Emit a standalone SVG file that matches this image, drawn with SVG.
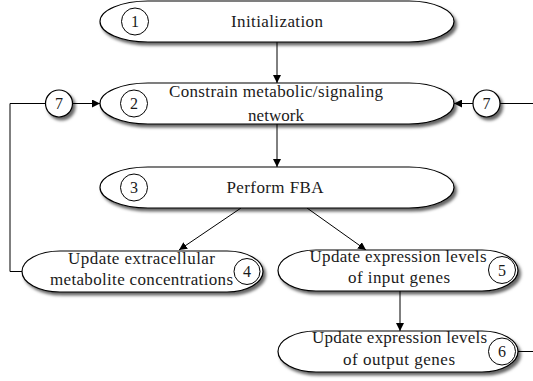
<svg xmlns="http://www.w3.org/2000/svg" width="533" height="381" viewBox="0 0 533 381" font-family="'Liberation Serif', 'Times New Roman', serif">
<defs>
<filter id="sh" x="-10%" y="-20%" width="130%" height="160%">
<feDropShadow dx="2.5" dy="3" stdDeviation="1.6" flood-color="#000" flood-opacity="0.6"/>
</filter>
<marker id="ah" viewBox="0 0 10 10" refX="10" refY="5" markerWidth="8" markerHeight="8" markerUnits="userSpaceOnUse" orient="auto">
<path d="M0,0 L10,5 L0,10 z" fill="#000"/>
</marker>
</defs>
<style>
.node{fill:#fff;stroke:#000;stroke-width:1.2;filter:url(#sh)}
.num{fill:#fff;stroke:#000;stroke-width:1}
.numsh{fill:#fff;stroke:#000;stroke-width:1.2;filter:url(#sh)}
text{font-size:17px;fill:#1a1a1a;text-anchor:middle}
.n{font-size:16px}
.c{fill:none;stroke:#000;stroke-width:1}
</style>
<g id="connectors">
<line class="c" x1="277" y1="42" x2="277" y2="83" marker-end="url(#ah)"/>
<line class="c" x1="277" y1="124" x2="277" y2="167" marker-end="url(#ah)"/>
<line class="c" x1="241" y1="208" x2="179" y2="250" marker-end="url(#ah)"/>
<line class="c" x1="307" y1="208" x2="366" y2="250" marker-end="url(#ah)"/>
<line class="c" x1="400" y1="291" x2="400" y2="331" marker-end="url(#ah)"/>
<polyline class="c" points="22,271.5 10,271.5 10,103.5 45.5,103.5"/>
<line class="c" x1="72.5" y1="103.5" x2="100" y2="103.5" marker-end="url(#ah)"/>
<line class="c" x1="518" y1="351.5" x2="533" y2="351.5"/>
<line class="c" x1="533" y1="103.5" x2="500" y2="103.5"/>
<line class="c" x1="473" y1="103.5" x2="454" y2="103.5" marker-end="url(#ah)"/>
</g>
<g id="n1">
<path class="node" d="M148,1 H409 A45,20.5 0 0 1 409,42 H148 A48,20.5 0 0 1 148,1 Z"/>
<circle class="num" cx="135" cy="21.5" r="13.5"/>
<text class="n" x="135" y="27">1</text>
<text x="277" y="27" textLength="92">Initialization</text>
</g>
<g id="n2">
<path class="node" d="M148,83 H409 A45,20.5 0 0 1 409,124 H148 A48,20.5 0 0 1 148,83 Z"/>
<circle class="num" cx="134" cy="103.5" r="13.5"/>
<text class="n" x="134" y="109">2</text>
<text x="276" y="97" textLength="214">Constrain metabolic/signaling</text>
<text x="276" y="121" textLength="56">network</text>
</g>
<g id="n3">
<path class="node" d="M148,167 H409 A45,20.5 0 0 1 409,208 H148 A48,20.5 0 0 1 148,167 Z"/>
<circle class="num" cx="134" cy="187.5" r="13.5"/>
<text class="n" x="134" y="193">3</text>
<text x="275" y="193" textLength="97">Perform FBA</text>
</g>
<g id="n4">
<path class="node" d="M60,251 H227 A36,20.5 0 0 1 227,292 H60 A38,20.5 0 0 1 60,251 Z"/>
<circle class="num" cx="247" cy="271.5" r="13"/>
<text class="n" x="247" y="277">4</text>
<text x="141.5" y="264" textLength="147">Update extracellular</text>
<text x="141.5" y="285" textLength="183">metabolite concentrations</text>
</g>
<g id="n5">
<path class="node" d="M316,250 H482 A36,20.5 0 0 1 482,291 H316 A38,20.5 0 0 1 316,250 Z"/>
<circle class="num" cx="502" cy="270" r="13.5"/>
<text class="n" x="502" y="275.5">5</text>
<text x="398" y="262" textLength="177">Update expression levels</text>
<text x="399" y="283" textLength="102">of input genes</text>
</g>
<g id="n6">
<path class="node" d="M316,331 H482 A36,20.5 0 0 1 482,372 H316 A38,20.5 0 0 1 316,331 Z"/>
<circle class="num" cx="502" cy="351.5" r="13.5"/>
<text class="n" x="502" y="357">6</text>
<text x="399.5" y="343" textLength="175">Update expression levels</text>
<text x="399" y="365" textLength="112">of output genes</text>
</g>
<g id="n7a">
<circle class="numsh" cx="59" cy="103.5" r="13.5"/>
<text class="n" x="59" y="109">7</text>
</g>
<g id="n7b">
<circle class="numsh" cx="486.5" cy="103.5" r="13.5"/>
<text class="n" x="486.5" y="109">7</text>
</g>
</svg>
